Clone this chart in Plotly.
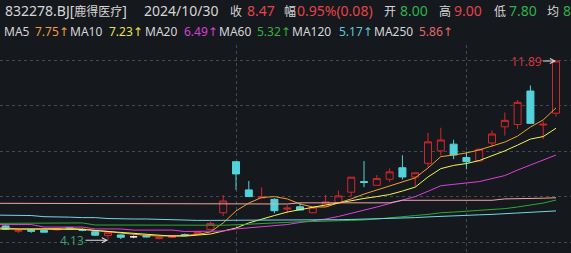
import plotly.graph_objects as go

# ---------------- data ----------------
idx = list(range(44))
opens = [4.75, 4.52, 4.57, 4.55, 4.58, 4.68, 4.60, 4.50, 4.33, 4.36, 4.28, 4.34, 4.20, 4.25, 4.38, 4.42,
         4.60, 5.32, 7.53, 6.31, 5.96, 5.90, 5.48, 5.58, 5.32, 5.61, 5.76, 6.21, 6.67, 6.51, 6.77, 7.27,
         6.87, 7.46, 8.00, 8.29, 7.71, 7.56, 8.34, 9.04, 9.14, 10.59, 9.12, 9.63]
highs = [4.78, 4.62, 4.60, 4.58, 4.68, 4.70, 4.65, 4.52, 4.50, 4.38, 4.33, 4.36, 4.27, 4.33, 4.42, 4.52,
         4.95, 6.09, 7.53, 6.70, 6.42, 5.95, 5.66, 5.73, 5.56, 6.09, 6.28, 6.87, 7.56, 6.95, 7.24, 7.81,
         7.07, 8.78, 9.00, 8.48, 7.97, 8.10, 8.89, 9.66, 10.20, 10.83, 9.29, 11.89]
lows = [4.58, 4.45, 4.45, 4.47, 4.55, 4.60, 4.52, 4.32, 4.13, 4.18, 4.22, 4.25, 4.17, 4.22, 4.30, 4.40,
        4.58, 5.18, 6.31, 6.02, 5.95, 5.30, 5.30, 5.44, 5.30, 5.58, 5.73, 6.02, 6.43, 6.51, 6.65, 6.76,
        6.46, 7.31, 7.80, 7.64, 7.20, 7.56, 8.16, 8.66, 8.95, 9.19, 8.51, 9.48]
closes = [4.61, 4.55, 4.52, 4.48, 4.64, 4.62, 4.56, 4.35, 4.47, 4.26, 4.28, 4.27, 4.24, 4.31, 4.33, 4.50,
          4.86, 5.83, 7.00, 6.02, 6.00, 5.41, 5.52, 5.44, 5.56, 5.79, 6.05, 6.86, 6.63, 6.80, 7.09, 6.87,
          7.05, 8.39, 8.47, 7.82, 7.53, 8.07, 8.73, 9.32, 10.10, 9.19, 9.15, 11.89]

ma_idx = list(range(-1, 44))
ma5 = [4.66, 4.66, 4.62, 4.62, 4.62, 4.64, 4.66, 4.62, 4.55, 4.51, 4.44, 4.38, 4.34, 4.31, 4.31, 4.34,
       4.38, 4.49, 4.88, 5.40, 5.74, 5.98, 6.02, 5.92, 5.70, 5.57, 5.57, 5.74, 5.92, 6.13, 6.31, 6.48,
       6.65, 6.83, 7.26, 7.75, 7.82, 7.91, 8.04, 8.21, 8.38, 8.64, 9.03, 9.34, 9.86]
ma10 = [4.62, 4.62, 4.62, 4.62, 4.62, 4.62, 4.62, 4.60, 4.55, 4.51, 4.44, 4.40, 4.36, 4.34, 4.31, 4.31,
        4.34, 4.40, 4.53, 4.66, 4.88, 5.05, 5.20, 5.35, 5.46, 5.57, 5.66, 5.74, 5.85, 5.94, 6.02, 6.11,
        6.26, 6.43, 6.87, 7.23, 7.37, 7.45, 7.58, 7.78, 8.00, 8.25, 8.51, 8.62, 8.98]
ma20 = [4.81, 4.81, 4.81, 4.81, 4.70, 4.70, 4.70, 4.70, 4.62, 4.62, 4.62, 4.57, 4.57, 4.57, 4.57, 4.51,
        4.51, 4.51, 4.53, 4.62, 4.66, 4.70, 4.75, 4.81, 4.90, 4.96, 5.05, 5.16, 5.29, 5.42, 5.57, 5.72,
        5.87, 6.02, 6.25, 6.49, 6.55, 6.60, 6.67, 6.80, 6.93, 7.17, 7.38, 7.58, 7.82]
ma60 = [4.86, 4.86, 4.86, 4.86, 4.86, 4.88, 4.88, 4.88, 4.79, 4.79, 4.79, 4.79, 4.79, 4.76, 4.76, 4.76,
        4.76, 4.76, 4.78, 4.80, 4.83, 4.86, 4.89, 4.92, 4.93, 4.94, 4.95, 4.96, 4.98, 5.01, 5.05, 5.09,
        5.16, 5.20, 5.25, 5.32, 5.35, 5.38, 5.42, 5.45, 5.50, 5.57, 5.66, 5.74, 5.87]
ma120 = [5.22, 5.22, 5.22, 5.20, 5.15, 5.15, 5.13, 5.11, 5.11, 5.07, 5.05, 5.05, 5.05, 5.03, 5.01, 4.99,
         4.99, 4.99, 4.99, 4.99, 4.99, 4.99, 4.99, 4.99, 4.99, 5.01, 5.01, 5.02, 5.03, 5.04, 5.05, 5.07,
         5.09, 5.11, 5.14, 5.17, 5.19, 5.21, 5.23, 5.25, 5.28, 5.30, 5.33, 5.36, 5.40]
ma250 = [5.73, 5.73, 5.73, 5.73, 5.73, 5.73, 5.73, 5.73, 5.73, 5.73, 5.73, 5.73, 5.73, 5.70, 5.70, 5.70,
         5.70, 5.70, 5.70, 5.70, 5.70, 5.70, 5.70, 5.70, 5.75, 5.75, 5.75, 5.75, 5.75, 5.75, 5.75, 5.75,
         5.86, 5.86, 5.86, 5.86, 5.86, 5.86, 5.86, 5.86, 5.92, 5.92, 5.92, 5.95, 5.97]

stock_code = "832278.BJ"
stock_name = "鹿得医疗"
quote_date = "2024/10/30"
quote_i = 34          # candle shown in the header
avg_price = "8.42"
ma_names = ["MA5", "MA10", "MA20", "MA60", "MA120", "MA250"]
ma_series = [ma5, ma10, ma20, ma60, ma120, ma250]

# ---------------- styles ----------------
BG = "#15181d"
RED = "#d5262d"
CYAN = "#52d3dc"
TXT = "#d6d6d6"
TRED = "#e5434b"
TGREEN = "#2db24f"
ma_line_colors = ["#f0a030", "#f5f552", "#dc40dc", "#2fa82f", "#70d8ea", "#f2a6a6"]
ma_text_colors = ["#f29b38", "#e6e64a", "#d63fd6", "#3ab03a", "#5fc8d8", "#e06a6a"]
FONT = "Noto Sans, DejaVu Sans, Noto Sans CJK SC"
CJK = "<span style='font-family:Noto Sans CJK SC;font-size:12px'>{}</span>"

W, H = 571, 253
TOP = 45

fig = go.Figure()

# moving-average lines
for name, vals, col in zip(ma_names, ma_series, ma_line_colors):
    fig.add_trace(go.Scatter(x=ma_idx, y=vals, mode="lines", line=dict(color=col, width=1),
                             hoverinfo="skip", showlegend=False, name=name))

# candles: split doji (open == close) from the others
norm = [i for i in idx if opens[i] != closes[i]]
doji = [i for i in idx if opens[i] == closes[i]]

fig.add_trace(go.Candlestick(
    x=norm, open=[opens[i] for i in norm], high=[highs[i] for i in norm],
    low=[lows[i] for i in norm], close=[closes[i] for i in norm],
    increasing=dict(line=dict(color=RED, width=1), fillcolor=BG),
    decreasing=dict(line=dict(color=CYAN, width=1), fillcolor=CYAN),
    whiskerwidth=0, hoverinfo="skip", showlegend=False))
if doji:
    fig.add_trace(go.Candlestick(
        x=doji, open=[opens[i] for i in doji], high=[highs[i] for i in doji],
        low=[lows[i] for i in doji], close=[closes[i] for i in doji],
        increasing=dict(line=dict(color="#f0f0f0", width=1), fillcolor="#f0f0f0"),
        decreasing=dict(line=dict(color="#f0f0f0", width=1), fillcolor="#f0f0f0"),
        whiskerwidth=0, hoverinfo="skip", showlegend=False))

# ---------------- header text ----------------
def py2paper(py):
    return (H - py) / (H - TOP)

q = quote_i
chg = closes[q] - closes[q - 1]
pct = chg / closes[q - 1] * 100
row1 = [
    (stock_code + "[" + CJK.format(stock_name) + "]", 3, TXT),
    (quote_date, 142, TXT),
    (CJK.format("收"), 228, TXT),
    (f"{closes[q]:.2f}", 245, TRED),
    (CJK.format("幅"), 282, TXT),
    (f"{pct:.2f}%({chg:.2f})", 295, TRED),
    (CJK.format("开"), 382, TXT),
    (f"{opens[q]:.2f}", 398, TGREEN),
    (CJK.format("高"), 437, TXT),
    (f"{highs[q]:.2f}", 452, TRED),
    (CJK.format("低"), 492, TXT),
    (f"{lows[q]:.2f}", 507, TGREEN),
    (CJK.format("均"), 545, TXT),
    (avg_price, 561, TGREEN),
]
ma_label_x = [2, 68, 143, 217, 290, 372]
ma_value_x = [33, 107, 182, 255, 337, 417]
row2 = []
for name, vals, tc, lx, vx in zip(ma_names, ma_series, ma_text_colors, ma_label_x, ma_value_x):
    row2.append((name, lx, TXT))
    row2.append((f"{vals[q + 1]:.2f}↑", vx, tc))

annotations = []
for items, py, fs in ((row1, 11, 14), (row2, 31, 12)):
    for txt, px, col in items:
        annotations.append(dict(text=txt, x=px / W, y=py2paper(py), xref="paper", yref="paper",
                                xanchor="left", yanchor="middle", showarrow=False,
                                font=dict(family=FONT, size=fs, color=col)))

# high / low markers
hi_i = max(idx, key=lambda i: highs[i])
lo_i = min(idx, key=lambda i: lows[i])
annotations.append(dict(x=hi_i, y=highs[hi_i], xref="x", yref="y", text=f"{highs[hi_i]:.2f}",
                        showarrow=True, ax=-30, ay=0, arrowcolor="#e0e0e0", arrowwidth=1,
                        arrowhead=5, arrowsize=1, font=dict(family=FONT, size=12, color="#d3343c")))
annotations.append(dict(x=lo_i, y=lows[lo_i], xref="x", yref="y", text=f"{lows[lo_i]:.2f}",
                        showarrow=True, ax=-36, ay=0, arrowcolor="#e0e0e0", arrowwidth=1,
                        arrowhead=5, arrowsize=1, font=dict(family=FONT, size=12, color="#35a06a")))

# price axis: 8.47 at 140px, 23.1 px per unit
ppu = 23.1
y_top = 8.47 + (140 - TOP) / ppu
y_bot = 8.47 - (H - 140) / ppu
grid_py = [60, 105.5, 151, 196.5, 242]
grid_vals = [8.47 - (g - 140) / ppu for g in grid_py]

fig.update_layout(
    width=W, height=H,
    margin=dict(l=0, r=0, t=TOP, b=0, pad=0),
    paper_bgcolor=BG, plot_bgcolor=BG,
    boxgap=0.22,
    annotations=annotations,
    xaxis=dict(range=[-0.4375, 44.17], rangeslider=dict(visible=False), showticklabels=False,
               tickvals=[18, 36], showgrid=True, gridcolor="#44484f", griddash="dot", gridwidth=1,
               zeroline=False, showline=False, ticks=""),
    yaxis=dict(range=[y_bot, y_top], showticklabels=False, tickvals=grid_vals, showgrid=True,
               gridcolor="#44484f", griddash="dot", gridwidth=1, zeroline=False, showline=False,
               ticks=""),
    showlegend=False,
    hovermode=False,
)

fig.write_html("out.html", config={"displayModeBar": False})
